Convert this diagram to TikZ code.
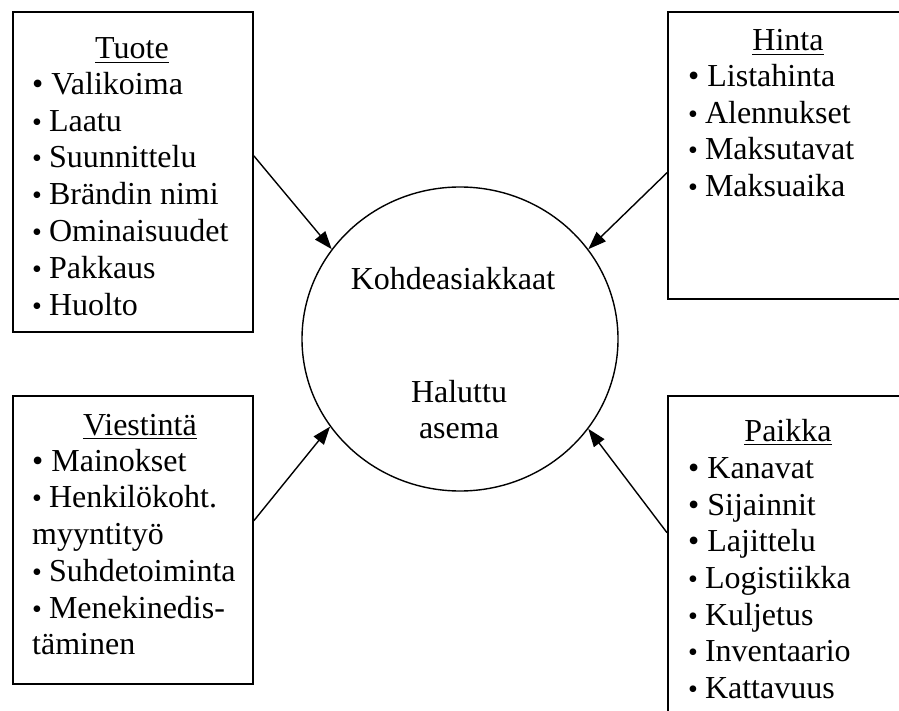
\documentclass[tikz,border=0pt]{standalone}
\usepackage{fontspec}
\setmainfont{Liberation Serif}
\usetikzlibrary{shapes.geometric,arrows.meta,calc}
\newcommand\bigbul{•\ }
\newcommand\smbul{{\fontsize{28}{28}\selectfont •}\hspace{7pt}}
\begin{document}
\begin{tikzpicture}[x=1pt,y=-1pt,
  boxst/.style={draw, line width=1.8pt, rectangle, inner sep=0, anchor=north west},
  ttl/.style={anchor=base, inner sep=0, font=\fontsize{32}{36}\selectfont},
  itm/.style={anchor=base west, inner sep=0, font=\fontsize{32}{36}\selectfont},
  ctext/.style={anchor=base, inner sep=0, font=\fontsize{32}{36}\selectfont},
  arr/.style={line width=1.4pt, -{Triangle[length=18pt,width=13pt]}},
  uline/.style={line width=1.5pt}]
\clip (0,0) rectangle (899,711);
\fill[white] (0,0) rectangle (899,711);

% center ellipse
\node[ellipse, draw, line width=1.4pt, minimum width=316pt, minimum height=304pt, inner sep=0] (kc) at (460,339) {};
\node[ctext] (k1) at (453,290) {Kohdeasiakkaat};
\node[ctext] (k2) at (459,402) {Haluttu};
\node[ctext] (k3) at (459,438) {asema};

% Tuote
\node[boxst, minimum width=240pt, minimum height=320pt] (tuote) at (12,11) {};
\node[ttl] (tuoteT) at (132,59) {Tuote};
\draw[uline] ([yshift=-3.5pt]tuoteT.base west) -- ([yshift=-3.5pt]tuoteT.base east);
\node[itm] (tu1) at (32,95) {\bigbul Valikoima};
\node[itm] (tu2) at (32,132) {\smbul Laatu};
\node[itm] (tu3) at (32,168) {\smbul Suunnittelu};
\node[itm] (tu4) at (32,205) {\smbul Brändin nimi};
\node[itm] (tu5) at (32,242) {\smbul Ominaisuudet};
\node[itm] (tu6) at (32,278) {\smbul Pakkaus};
\node[itm] (tu7) at (32,315) {\smbul Huolto};

% Hinta
\node[boxst, minimum width=242pt, minimum height=287pt] (hinta) at (667,11) {};
\node[ttl] (hintaT) at (788,51) {Hinta};
\draw[uline] ([yshift=-3.5pt]hintaT.base west) -- ([yshift=-3.5pt]hintaT.base east);
\node[itm] (hi1) at (688,87) {\bigbul Listahinta};
\node[itm] (hi2) at (688,124) {\smbul Alennukset};
\node[itm] (hi3) at (688,160) {\smbul Maksutavat};
\node[itm] (hi4) at (688,197) {\smbul Maksuaika};

% Viestinta
\node[boxst, minimum width=240pt, minimum height=288pt] (viest) at (12,395) {};
\node[ttl] (viestT) at (140,435) {Viestintä};
\draw[uline] ([yshift=-3.5pt]viestT.base west) -- ([yshift=-3.5pt]viestT.base east);
\node[itm] (vi1) at (32,471) {\bigbul Mainokset};
\node[itm] (vi2) at (32,507) {\smbul Henkilökoht.};
\node[itm] (vi3) at (32,544) {myyntityö};
\node[itm] (vi4) at (32,581) {\smbul Suhdetoiminta};
\node[itm] (vi5) at (32,618) {\smbul Menekinedis-};
\node[itm] (vi6) at (32,654) {täminen};

% Paikka
\node[boxst, minimum width=242pt, minimum height=345pt] (paikka) at (667,395) {};
\node[ttl] (paikkaT) at (788,441) {Paikka};
\draw[uline] ([yshift=-3.5pt]paikkaT.base west) -- ([yshift=-3.5pt]paikkaT.base east);
\node[itm] (pa1) at (688,478) {\bigbul Kanavat};
\node[itm] (pa2) at (688,515) {\bigbul Sijainnit};
\node[itm] (pa3) at (688,551) {\bigbul Lajittelu};
\node[itm] (pa4) at (688,588) {\smbul Logistiikka};
\node[itm] (pa5) at (688,625) {\smbul Kuljetus};
\node[itm] (pa6) at (688,661) {\smbul Inventaario};
\node[itm] (pa7) at (688,698) {\smbul Kattavuus};

% arrows
\draw[arr] ($(tuote.north east)!0.45!(tuote.south east)$) -- (kc.145);
\draw[arr] ($(hinta.north west)!0.56!(hinta.south west)$) -- (kc.35);
\draw[arr] ($(viest.north east)!0.434!(viest.south east)$) -- (kc.214);
\draw[arr] ($(paikka.north west)!0.397!(paikka.south west)$) -- (kc.325);
\end{tikzpicture}
\end{document}
